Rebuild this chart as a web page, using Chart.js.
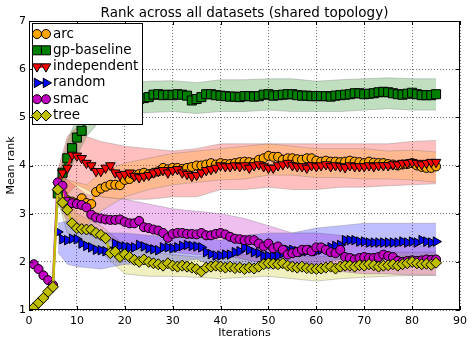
<!DOCTYPE html>
<html>
<head>
<meta charset="utf-8">
<script src="https://cdn.jsdelivr.net/npm/chart.js@4.4.1/dist/chart.umd.min.js"></script>
<style>
  html, body { margin: 0; padding: 0; background: #fff; }
</style>
</head>
<body>
<canvas id="rank" width="472" height="340"></canvas>
<script>
// ====== data ======
const iterations = Array.from({ length: 85 }, (_, i) => i + 1);

// mean rank per iteration (arc / gp / independent / random start at iteration 6)
const arcRank = [null, null, null, null, null,
  3.50, 3.40, 3.28, 3.25, 3.22, 3.32, 3.22, 3.20, 3.45, 3.52, 3.56, 3.60, 3.60, 3.59, 3.70,
  3.72, 3.80, 3.82, 3.85, 3.82, 3.85, 3.88, 3.95, 3.92, 3.95, 3.95, 3.93, 3.95, 3.97, 4.00,
  4.00, 4.02, 4.05, 4.02, 4.05, 4.03, 4.03, 4.05, 4.07, 4.08, 4.07, 4.05, 4.12, 4.15, 4.20,
  4.18, 4.18, 4.12, 4.15, 4.15, 4.13, 4.12, 4.15, 4.15, 4.10, 4.08, 4.10, 4.08, 4.08, 4.07,
  4.08, 4.10, 4.08, 4.07, 4.05, 4.08, 4.06, 4.05, 4.05, 4.03, 4.02, 4.00, 4.02, 4.03, 4.05,
  4.00, 3.97, 3.95, 3.95, 3.98];
const gpRank = [null, null, null, null, null,
  3.42, 3.85, 4.15, 4.36, 4.58, 4.72, 4.95, 5.12, 5.22, 5.28, 5.32, 5.35, 5.36, 5.38, 5.38,
  5.39, 5.38, 5.38, 5.40, 5.42, 5.47, 5.48, 5.46, 5.47, 5.46, 5.48, 5.47, 5.45, 5.35, 5.38,
  5.42, 5.48, 5.48, 5.46, 5.45, 5.44, 5.43, 5.43, 5.42, 5.44, 5.44, 5.43, 5.44, 5.47, 5.48,
  5.45, 5.46, 5.47, 5.48, 5.48, 5.46, 5.45, 5.45, 5.44, 5.44, 5.44, 5.44, 5.43, 5.45, 5.46,
  5.47, 5.48, 5.50, 5.50, 5.48, 5.49, 5.50, 5.52, 5.53, 5.52, 5.50, 5.48, 5.47, 5.49, 5.51,
  5.48, 5.46, 5.46, 5.46, 5.48];
const independentRank = [null, null, null, null, null,
  3.60, 3.85, 3.95, 4.22, 4.20, 4.15, 4.05, 4.00, 3.88, 3.88, 3.95, 4.00, 3.85, 3.80, 3.82,
  3.85, 3.78, 3.75, 3.78, 3.80, 3.85, 3.88, 3.90, 3.85, 3.90, 3.92, 3.85, 3.82, 3.78, 3.80,
  3.85, 3.90, 3.92, 3.95, 4.00, 3.98, 3.98, 4.00, 3.98, 4.00, 3.95, 4.00, 4.02, 3.98, 3.95,
  3.95, 4.00, 4.02, 4.05, 4.00, 3.98, 3.98, 3.95, 4.00, 3.98, 4.00, 4.02, 3.98, 4.00, 3.98,
  3.96, 4.00, 3.98, 3.98, 3.98, 4.00, 3.98, 4.00, 4.00, 4.00, 4.02, 4.02, 4.05, 4.05, 4.07,
  4.05, 4.02, 4.05, 4.07, 4.07];
const randomRank = [null, null, null, null, null,
  2.62, 2.47, 2.45, 2.48, 2.47, 2.38, 2.33, 2.30, 2.25, 2.24, 2.22, 2.24, 2.38, 2.33, 2.32,
  2.30, 2.30, 2.35, 2.32, 2.28, 2.26, 2.24, 2.30, 2.30, 2.28, 2.30, 2.33, 2.35, 2.33, 2.32,
  2.30, 2.20, 2.16, 2.13, 2.13, 2.15, 2.15, 2.20, 2.22, 2.30, 2.25, 2.20, 2.18, 2.12, 2.12,
  2.12, 2.13, 2.18, 2.25, 2.25, 2.22, 2.20, 2.22, 2.25, 2.22, 2.25, 2.28, 2.30, 2.33, 2.35,
  2.45, 2.45, 2.45, 2.42, 2.42, 2.40, 2.40, 2.40, 2.40, 2.40, 2.40, 2.40, 2.42, 2.40, 2.42,
  2.40, 2.45, 2.42, 2.40, 2.42];
const smacRank = [
  1.95, 1.85, 1.72, 1.62, 1.52, 3.65, 3.58, 3.25, 3.22, 3.20, 3.18, 3.13, 2.98, 2.92, 2.90,
  2.88, 2.87, 2.87, 2.88, 2.83, 2.80, 2.80, 2.85, 2.72, 2.70, 2.67, 2.65, 2.60, 2.50, 2.58,
  2.60, 2.60, 2.58, 2.58, 2.57, 2.60, 2.55, 2.55, 2.58, 2.60, 2.57, 2.52, 2.48, 2.47, 2.45,
  2.45, 2.45, 2.38, 2.32, 2.38, 2.28, 2.32, 2.25, 2.15, 2.18, 2.20, 2.25, 2.25, 2.22, 2.30,
  2.30, 2.25, 2.20, 2.18, 2.25, 2.10, 2.08, 2.05, 2.08, 2.10, 2.08, 2.08, 2.10, 2.15, 2.12,
  2.10, 2.02, 2.00, 2.02, 2.03, 2.02, 2.03, 2.05, 2.04, 2.05];
const treeRank = [
  1.05, 1.15, 1.25, 1.38, 1.48, 3.50, 3.23, 3.08, 2.80, 2.70, 2.68, 2.67, 2.67, 2.60, 2.56,
  2.49, 2.18, 2.21, 2.10, 2.16, 2.10, 2.04, 2.00, 2.05, 2.00, 1.97, 1.95, 1.92, 1.97, 1.92,
  1.90, 1.92, 1.90, 1.88, 1.85, 1.80, 1.88, 1.90, 1.92, 1.90, 1.88, 1.90, 1.87, 1.88, 1.85,
  1.88, 1.86, 1.90, 1.95, 1.97, 1.96, 1.95, 1.97, 1.92, 1.90, 1.88, 1.90, 1.87, 1.86, 1.85,
  1.86, 1.88, 1.90, 1.86, 1.90, 1.92, 1.92, 1.90, 1.93, 1.92, 1.95, 1.93, 1.90, 1.92, 1.93,
  1.95, 1.92, 1.95, 1.97, 2.00, 1.97, 1.95, 1.96, 1.94, 1.98];

// spread bands, sampled at these iterations
const bandIters = [6, 8, 10, 12, 15, 20, 25, 30, 35, 40, 45, 50, 55, 60, 65, 70, 75, 80, 85];
const arcHi  = [3.80, 3.70, 3.65, 3.60, 3.85, 4.05, 4.15, 4.25, 4.30, 4.35, 4.40, 4.45, 4.40, 4.35, 4.35, 4.35, 4.30, 4.32, 4.28];
const arcLo  = [3.20, 2.90, 2.80, 2.75, 3.05, 3.35, 3.50, 3.60, 3.65, 3.70, 3.72, 3.80, 3.80, 3.75, 3.75, 3.72, 3.72, 3.70, 3.65];
const gpHi   = [3.70, 4.50, 5.00, 5.30, 5.55, 5.70, 5.75, 5.76, 5.72, 5.78, 5.78, 5.80, 5.80, 5.75, 5.78, 5.80, 5.82, 5.80, 5.80];
const gpLo   = [3.10, 3.80, 4.20, 4.60, 4.95, 5.05, 5.10, 5.12, 5.08, 5.12, 5.12, 5.15, 5.12, 5.12, 5.12, 5.15, 5.18, 5.15, 5.15];
const indHi  = [3.90, 4.60, 4.80, 4.60, 4.50, 4.40, 4.35, 4.30, 4.35, 4.45, 4.45, 4.45, 4.45, 4.45, 4.45, 4.45, 4.45, 4.50, 4.52];
const indLo  = [3.30, 3.40, 3.60, 3.50, 3.35, 3.30, 3.30, 3.35, 3.35, 3.50, 3.50, 3.55, 3.50, 3.50, 3.55, 3.55, 3.58, 3.60, 3.62];
const randHi = [2.80, 2.85, 2.80, 2.70, 2.60, 2.60, 2.55, 2.50, 2.50, 2.45, 2.55, 2.60, 2.60, 2.70, 2.75, 2.80, 2.80, 2.80, 2.80];
const randLo = [2.20, 1.95, 1.90, 1.88, 1.85, 1.95, 1.95, 2.00, 2.05, 1.85, 1.95, 1.85, 1.90, 1.95, 2.05, 2.10, 2.12, 2.10, 2.05];
const smacHi = [3.90, 3.70, 3.55, 3.40, 3.35, 3.30, 3.20, 3.10, 3.05, 3.00, 2.90, 2.75, 2.60, 2.60, 2.55, 2.45, 2.40, 2.35, 2.30];
const smacLo = [3.30, 2.80, 2.75, 2.60, 2.45, 2.40, 2.30, 2.20, 2.15, 2.15, 2.05, 1.95, 1.85, 1.85, 1.80, 1.75, 1.75, 1.72, 1.72];
const treeHi = [3.70, 3.30, 3.00, 2.90, 2.75, 2.35, 2.20, 2.15, 2.10, 2.12, 2.15, 2.20, 2.15, 2.10, 2.15, 2.15, 2.20, 2.20, 2.20];
const treeLo = [3.30, 2.60, 2.40, 2.35, 2.20, 1.75, 1.70, 1.70, 1.68, 1.65, 1.68, 1.70, 1.65, 1.60, 1.65, 1.68, 1.70, 1.72, 1.72];

const xTicks = [0, 10, 20, 30, 40, 50, 60, 70, 80, 90];
const yTicks = [1, 2, 3, 4, 5, 6, 7];

// ====== series styling ======
const series = [
  { name: 'arc',         vals: arcRank,         hi: arcHi,  lo: arcLo,  color: '#ffa500', rgb: '255,165,0', style: 'circle',   radius: 4.5, rot: 0 },
  { name: 'gp-baseline', vals: gpRank,          hi: gpHi,   lo: gpLo,   color: '#008000', rgb: '0,128,0',   style: 'rect',     radius: 6.4, rot: 0 },
  { name: 'independent', vals: independentRank, hi: indHi,  lo: indLo,  color: '#ff0000', rgb: '255,0,0',   style: 'triangle', radius: 5.5, rot: 180 },
  { name: 'random',      vals: randomRank,      hi: randHi, lo: randLo, color: '#0000ff', rgb: '0,0,255',   style: 'triangle', radius: 5.5, rot: 90 },
  { name: 'smac',        vals: smacRank,        hi: smacHi, lo: smacLo, color: '#bf00bf', rgb: '191,0,191', style: 'circle',   radius: 4.5, rot: 0 },
  { name: 'tree',        vals: treeRank,        hi: treeHi, lo: treeLo, color: '#bfbf00', rgb: '191,191,0', style: 'rectRot',  radius: 5.5, rot: 0 },
];

const pts = (xs, ys) => xs.map((x, i) => ({ x, y: ys[i] }));

const datasets = [];
series.forEach((s, k) => {
  // band: upper edge, then lower edge filled back to it
  datasets.push({
    data: pts(bandIters, s.hi), order: 20 + k, fill: false,
    borderColor: 'rgba(120,120,120,0.35)', borderWidth: 1, pointRadius: 0,
  });
  datasets.push({
    data: pts(bandIters, s.lo), order: 20 + k, fill: '-1',
    backgroundColor: `rgba(${s.rgb},0.25)`,
    borderColor: 'rgba(120,120,120,0.35)', borderWidth: 1, pointRadius: 0,
  });
});
series.forEach((s, k) => {
  datasets.push({
    label: s.name, data: pts(iterations, s.vals), order: 10 - k, fill: false,
    borderColor: s.color, borderWidth: 2.5, spanGaps: false,
    pointStyle: s.style, pointRadius: s.radius, pointRotation: s.rot,
    pointBackgroundColor: s.color, pointBorderColor: '#000', pointBorderWidth: 1,
  });
});

// ====== marker helper for the legend ======
function marker(ctx, s, x, y) {
  ctx.beginPath();
  const r = s.radius;
  if (s.style === 'circle') {
    ctx.arc(x, y, r, 0, Math.PI * 2);
  } else if (s.style === 'rect') {
    const h = r * Math.SQRT1_2;
    ctx.rect(x - h, y - h, 2 * h, 2 * h);
  } else if (s.style === 'rectRot') {
    ctx.moveTo(x - r, y); ctx.lineTo(x, y - r); ctx.lineTo(x + r, y); ctx.lineTo(x, y + r);
  } else {
    let a = s.rot * Math.PI / 180;
    for (let i = 0; i < 3; i++) {
      const px = x + Math.sin(a) * r, py = y - Math.cos(a) * r;
      i ? ctx.lineTo(px, py) : ctx.moveTo(px, py);
      a += 2 * Math.PI / 3;
    }
  }
  ctx.closePath();
  ctx.fillStyle = s.color;
  ctx.fill();
  ctx.strokeStyle = '#000';
  ctx.lineWidth = 1;
  ctx.stroke();
}

// frame + inward ticks on all four sides
const frame = {
  id: 'frame',
  afterDatasetsDraw(chart) {
    const { ctx, chartArea: a, scales: { x, y } } = chart;
    ctx.save();
    ctx.strokeStyle = '#000';
    ctx.lineWidth = 1;
    ctx.beginPath();
    xTicks.forEach(v => {
      const px = Math.round(x.getPixelForValue(v)) + 0.5;
      ctx.moveTo(px, a.bottom); ctx.lineTo(px, a.bottom - 4);
      ctx.moveTo(px, a.top); ctx.lineTo(px, a.top + 4);
    });
    yTicks.forEach(v => {
      const py = Math.round(y.getPixelForValue(v)) + 0.5;
      ctx.moveTo(a.left, py); ctx.lineTo(a.left + 4, py);
      ctx.moveTo(a.right, py); ctx.lineTo(a.right - 4, py);
    });
    ctx.stroke();
    ctx.strokeRect(a.left + 0.5, a.top + 0.5, a.right - a.left - 1, a.bottom - a.top - 1);
    ctx.restore();
  }
};

// title + boxed legend with two markers per entry
const decor = {
  id: 'decor',
  afterDraw(chart) {
    const { ctx, chartArea: a } = chart;
    ctx.save();
    ctx.fillStyle = '#000';
    ctx.font = '13.5px "DejaVu Sans"';
    ctx.textAlign = 'center';
    ctx.textBaseline = 'middle';
    ctx.fillText('Rank across all datasets (shared topology)', (a.left + a.right) / 2, 13);

    const bx = a.left + 3, by = a.top + 2;
    ctx.fillStyle = '#fff';
    ctx.fillRect(bx, by, 110, 101);
    ctx.strokeStyle = '#000';
    ctx.lineWidth = 1;
    ctx.strokeRect(bx + 0.5, by + 0.5, 110, 101);

    ctx.textAlign = 'left';
    series.forEach((s, i) => {
      const yy = by + 11 + i * 16.3;
      ctx.beginPath();
      ctx.moveTo(bx + 5, yy); ctx.lineTo(bx + 14, yy);
      ctx.strokeStyle = s.color; ctx.lineWidth = 2.5; ctx.stroke();
      marker(ctx, s, bx + 5, yy);
      marker(ctx, s, bx + 14, yy);
      ctx.fillStyle = '#000';
      ctx.fillText(s.name, bx + 21, yy);
    });
    ctx.restore();
  }
};

const tickFont = { family: 'DejaVu Sans', size: 11 };

new Chart(document.getElementById('rank'), {
  type: 'line',
  data: { datasets },
  plugins: [frame, decor],
  options: {
    responsive: false,
    animation: false,
    layout: { padding: { top: 21, right: 8, left: 0, bottom: 0 } },
    plugins: { legend: { display: false }, tooltip: { enabled: false }, title: { display: false } },
    elements: { line: { tension: 0 } },
    scales: {
      x: {
        type: 'linear', min: 0, max: 90,
        afterBuildTicks: s => { s.ticks = xTicks.map(v => ({ value: v })); },
        afterFit: s => { s.height = 30; },
        ticks: { color: '#000', font: tickFont, padding: 5, maxRotation: 0 },
        grid: { color: 'rgba(0,0,0,0.55)', lineWidth: 1, drawTicks: false },
        border: { display: false, dash: [1, 2] },
        title: { display: true, text: 'Iterations', color: '#000', font: tickFont, padding: { top: 0, bottom: 0 } },
      },
      y: {
        type: 'linear', min: 1, max: 7,
        afterBuildTicks: s => { s.ticks = yTicks.map(v => ({ value: v })); },
        afterFit: s => { s.width = 29; },
        ticks: { color: '#000', font: tickFont, padding: 3 },
        grid: { color: 'rgba(0,0,0,0.55)', lineWidth: 1, drawTicks: false },
        border: { display: false, dash: [1, 2] },
        title: { display: true, text: 'Mean rank', color: '#000', font: tickFont, padding: { top: 5, bottom: 0 } },
      },
    },
  },
});
</script>
</body>
</html>
